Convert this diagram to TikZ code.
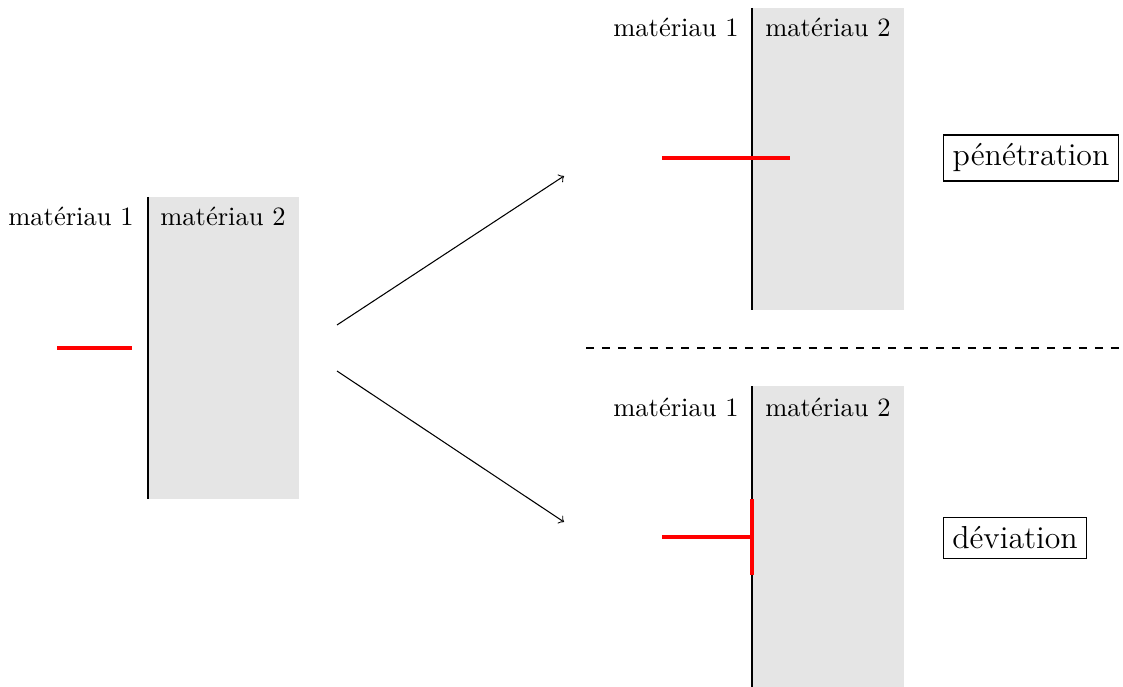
\documentclass[tikz,border=0pt]{standalone}
\usepackage{fontspec}
\begin{document}
\begin{tikzpicture}[x=0.3774pt,y=-0.3774pt,
  matfill/.style={fill=gray!20},
  iface/.style={draw=black},
  ray/.style={draw=red,ultra thick},
  lbl/.style={anchor=base,inner sep=0pt},
  result/.style={draw,font=\large}]
\useasboundingbox (0,0) rectangle (1123,687);
% left panel
\fill[matfill] (148,197) rectangle (299,499);
\draw[iface] (148,197) -- (148,499);
\draw[ray] (57,348) -- (132,348);
\node[lbl] (l1) at (71,226) {matériau 1};
\node[lbl] (l2) at (223,226) {matériau 2};
% arrows
\coordinate (a0) at (337,325); \coordinate (a1) at (564,176);
\coordinate (b0) at (337,371); \coordinate (b1) at (564,522);
\draw[->] (a0) -- (a1);
\draw[->] (b0) -- (b1);
% top right panel
\fill[matfill] (752,8) rectangle (904,310);
\draw[iface] (752,8) -- (752,310);
\draw[ray] (662,158) -- (790,158);
\node[lbl] (t1) at (676,37) {matériau 1};
\node[lbl] (t2) at (828,37) {matériau 2};
\node[result] (pen) at (1031,158) {pénétration};
% separator
\draw[dashed] (586,348) -- (1120,348);
% bottom right panel
\fill[matfill] (752,386) rectangle (904,687);
\draw[iface] (752,386) -- (752,687);
\draw[ray] (662,537) -- (752,537);
\draw[ray] (752,499) -- (752,575);
\node[lbl] (d1) at (676,416) {matériau 1};
\node[lbl] (d2) at (828,416) {matériau 2};
\node[result] (dev) at (1015,538) {déviation};
\end{tikzpicture}
\end{document}
